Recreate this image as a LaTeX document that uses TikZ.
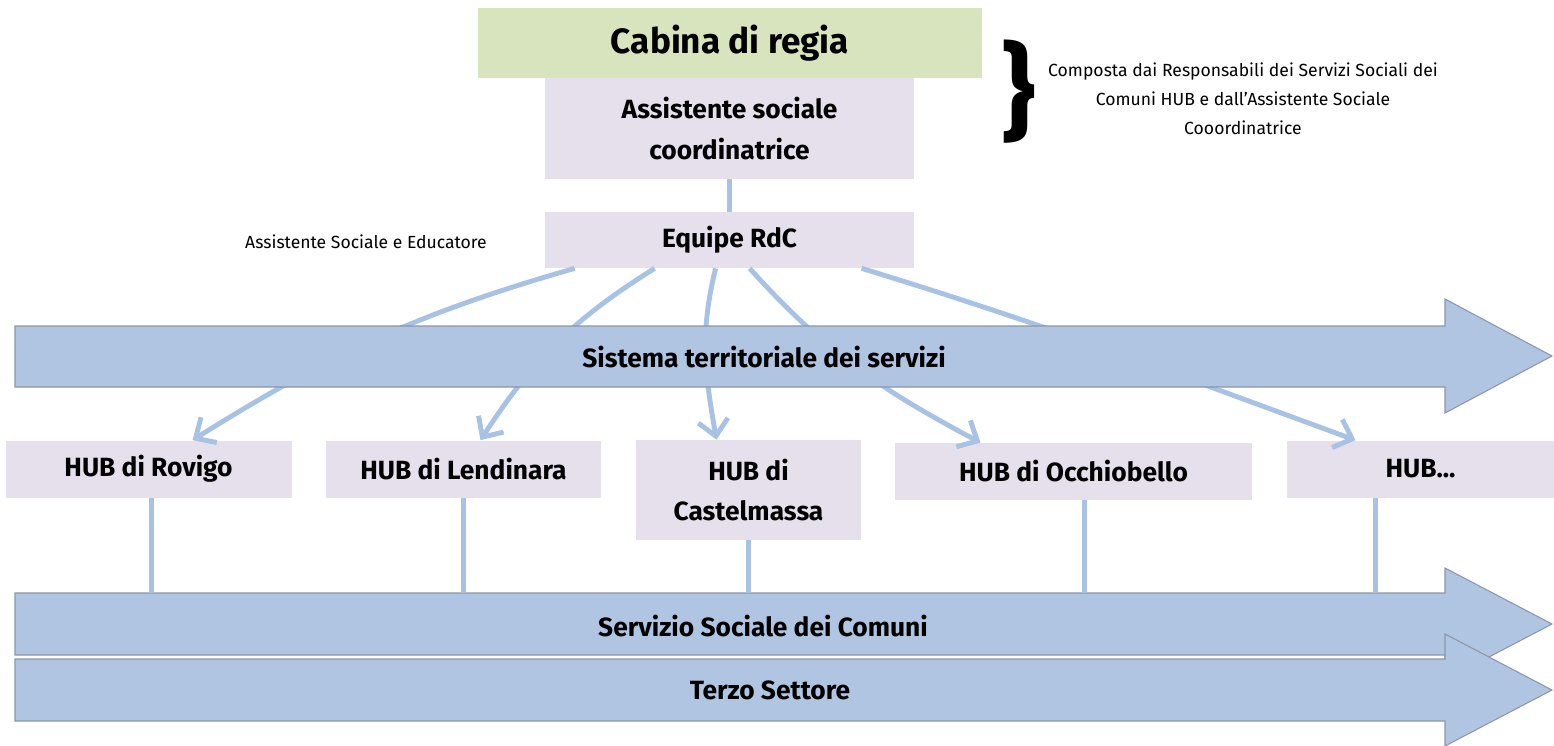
\documentclass[tikz,border=0pt]{standalone}
\usepackage{fontspec}
\setmainfont{Fira Sans}
\usetikzlibrary{arrows.meta,calc}

\definecolor{regiagreen}{RGB}{215,228,189}
\definecolor{boxlilac}{RGB}{229,224,236}
\definecolor{bandblue}{RGB}{176,197,226}
\definecolor{bandedge}{RGB}{140,150,168}
\definecolor{linkblue}{RGB}{168,194,228}

\tikzset{
  box/.style={fill=boxlilac, inner sep=0pt, align=center,
    font=\bfseries\fontsize{15}{23}\selectfont},
  band/.style={fill=bandblue, draw=bandedge, line width=0.6pt},
  bandtext/.style={font=\bfseries\fontsize{15}{18}\selectfont},
  link/.style={draw=linkblue, line width=2.4pt},
  flow/.style={draw=linkblue, line width=2.8pt,
    -{Straight Barb[length=9pt,width=17pt]}},
  note/.style={align=center, font=\fontsize{10}{16.5}\selectfont}
}

\begin{document}
\begin{tikzpicture}[x=0.02cm, y=-0.02cm]
		\def\pu{0.02cm}
		\useasboundingbox (0,0) rectangle (1554,745);
		\def\sistema{(15,326) -- (1445,326) -- (1445,299) -- (1552,356) -- (1445,413) -- (1445,387) -- (15,387) -- cycle}
		\def\servizio{(15,593) -- (1445,593) -- (1445,568) -- (1552,624) -- (1445,680) -- (1445,655) -- (15,655) -- cycle}
		\def\terzo{(15,659) -- (1445,659) -- (1445,634) -- (1552,690) -- (1445,746) -- (1445,721) -- (15,721) -- cycle}
		% top of the tree
		\node[box, fill=regiagreen, minimum width=504*\pu, minimum height=70*\pu,
		  font=\bfseries\fontsize{20}{24}\selectfont] (cabina) at (730,43) {Cabina di regia};
		\node[box, minimum width=369*\pu, minimum height=101*\pu] (coord) at (729.5,128.5) {Assistente sociale\\coordinatrice};
		\node[box, minimum width=369*\pu, minimum height=56*\pu] (equipe) at (729.5,240) {Equipe RdC};
		\draw[link] (coord) -- (equipe);
		\node[note] (educ) at (366,242) {Assistente Sociale e Educatore};
		\node[font=\bfseries\fontsize{60}{60}\selectfont] (brace) at (1019,92) {\}};
		\node[note] (regia) at (1243,99) {Composta dai Responsabili dei Servizi Sociali dei\\Comuni HUB e dall’Assistente Sociale\\Cooordinatrice};
		% hubs
		\node[box, minimum width=286*\pu, minimum height=57*\pu] (rovigo) at (148.5,469) {HUB di Rovigo};
		\node[box, minimum width=275*\pu, minimum height=57*\pu] (lendinara) at (463.5,469) {HUB di Lendinara};
		\node[box, minimum width=225*\pu, minimum height=100*\pu] (castelmassa) at (748.5,490) {HUB di\\Castelmassa};
		\node[box, minimum width=357*\pu, minimum height=57*\pu] (occhiobello) at (1073.5,471.5) {HUB di Occhiobello};
		\node[box, minimum width=267*\pu, minimum height=57*\pu] (hubx) at (1420.5,469) {HUB...};
		% equipe to hubs
		\draw[flow] ($(equipe.south west)+(30,0)$) to[out=196, in=32] ($(rovigo.north)+(44,0)$);
		\draw[flow] ($(equipe.south west)+(110,0)$) to[out=212, in=57] ($(lendinara.north)+(17,0)$);
		\draw[flow] ($(equipe.south west)+(171,0)$) to[out=256, in=100] ($(castelmassa.north)+(-32,0)$);
		\draw[flow] ($(equipe.south west)+(205,0)$) to[out=312, in=152] ($(occhiobello.north)+(-93,0)$);
		\draw[flow] ($(equipe.south west)+(317,0)$) to[out=343, in=160] ($(hubx.north)+(-65,0)$);
		% bands
		\draw[band] \sistema;
		\node[bandtext] (sistema) at (764,357) {Sistema territoriale dei servizi};
		\draw[band] \servizio;
		\node[bandtext] (servizio) at (763,626) {Servizio Sociale dei Comuni};
		\coordinate (servtop) at (0,593);
		\coordinate (rovfoot) at ($(rovigo.south)+(3,0)$);
		\coordinate (occfoot) at ($(occhiobello.south)+(11,0)$);
		\coordinate (hubfoot) at ($(hubx.south)+(-45,0)$);
		\draw[link] (rovfoot) -- (rovfoot |- servtop);
		\draw[link] (lendinara.south) -- (lendinara.south |- servtop);
		\draw[link] (castelmassa.south) -- (castelmassa.south |- servtop);
		\draw[link] (occfoot) -- (occfoot |- servtop);
		\draw[link] (hubfoot) -- (hubfoot |- servtop);
		\draw[band] \terzo;
		\node[bandtext] (terzo) at (770,690) {Terzo Settore};
	\end{tikzpicture}
\end{document}
